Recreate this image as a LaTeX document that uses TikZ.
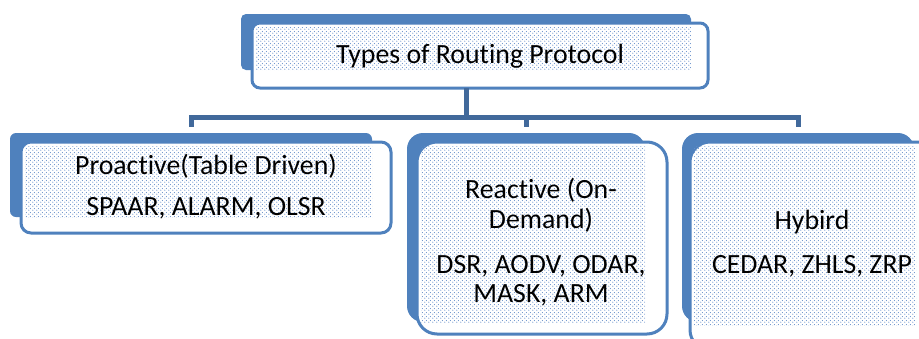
\documentclass[tikz,border=0pt]{standalone}
\usepackage{fontspec}
\setmainfont{Carlito}[Ligatures=NoCommon]
\usetikzlibrary{patterns.meta}

\definecolor{accent}{HTML}{4F81BD}
\definecolor{linkblue}{HTML}{41699B}
\definecolor{dotblue}{HTML}{6890CB}

% fine staggered dot texture used inside the boxes
\tikzdeclarepattern{
  name=stagdots,
  type=uncolored,
  bounding box={(0pt,0pt) and (4pt,4pt)},
  tile size={(4pt,4pt)},
  code={
    \fill (1pt,1pt) circle (0.7pt);
    \fill (3pt,3pt) circle (0.7pt);
  }
}

\tikzset{
  backbox/.style={fill=accent, draw=none},
  frontbox/.style={fill=white, draw=accent, line width=3pt},
  dotfill/.style={pattern={stagdots}, pattern color=dotblue},
  conn/.style={draw=linkblue, line width=5pt},
  lbl/.style={anchor=base, inner sep=0pt, font=\fontsize{27.8}{30}\selectfont},
}

\begin{document}
\begin{tikzpicture}[x=1pt,y=-1pt]
\useasboundingbox (0,0) rectangle (919,338);

% ---- root: Types of Routing Protocol
\path[backbox, rounded corners=5pt] (241,14) rectangle (691,70);
\node[inner sep=0pt, minimum width=450pt, minimum height=56pt] (topback) at (466,42) {};
\path[frontbox, rounded corners=8pt] (252,23) rectangle (708,88);
\node[inner sep=0pt, minimum width=456pt, minimum height=65pt] (topfront) at (480,55.5) {};
\fill[dotfill] (255,27) rectangle (691,70);

% ---- proactive
\path[backbox, rounded corners=6pt] (10,133) rectangle (372,217);
\node[inner sep=0pt, minimum width=362pt, minimum height=84pt] (b1back) at (191,175) {};
\path[frontbox, rounded corners=10pt] (21,142) rectangle (391,233);
\fill[dotfill] (25,146) rectangle (372,217);

% ---- reactive
\path[backbox, rounded corners=16pt] (407,133) rectangle (645,322);
\node[inner sep=0pt, minimum width=238pt, minimum height=189pt] (b2back) at (526,227.5) {};
\path[frontbox, rounded corners=20pt] (417,142) rectangle (667,334);
\fill[dotfill] (421,146) rectangle (645,322);

% ---- hybrid
\path[backbox, rounded corners=16pt] (682,133) rectangle (914,322);
\node[inner sep=0pt, minimum width=232pt, minimum height=189pt] (b3back) at (798,227.5) {};
\path[frontbox, rounded corners=20pt] (690,142) rectangle (940,350);
\fill[dotfill] (694,146) rectangle (916,325);

% ---- labels
\node[lbl] (t0) at (480,63) {Types of Routing Protocol};

\node[lbl] (t1a) at (206,174) {Proactive(Table Driven)};
\node[lbl] (t1b) at (206,215) {SPAAR, ALARM, OLSR};

\node[lbl] (t2a) at (541,198) {Reactive (On-};
\node[lbl] (t2b) at (541,228) {Demand)};
\node[lbl] (t2c) at (541,273) {DSR, AODV, ODAR,};
\node[lbl] (t2d) at (541,302) {MASK, ARM};

\node[lbl] (t3a) at (812,229) {Hybird};
\node[lbl] (t3b) at (812,273) {CEDAR, ZHLS, ZRP};

% ---- tree connectors
\coordinate (hub) at (466,117);
\draw[conn] (topfront.south -| topback.center) -- (hub);
\draw[conn] (hub) -| ([yshift=6pt]b1back.north);
\draw[conn] (hub) -| ([yshift=6pt]b2back.north);
\draw[conn] (hub) -| ([yshift=6pt]b3back.north);
\end{tikzpicture}
\end{document}
